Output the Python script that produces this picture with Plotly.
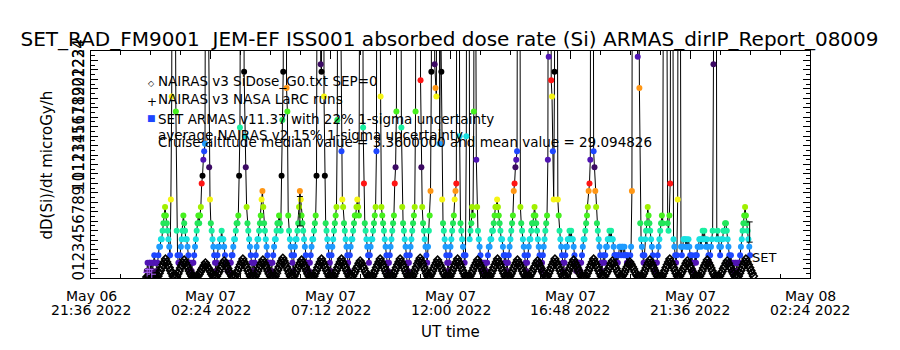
import plotly.graph_objects as go
import pandas as pd

# ---------------- data ----------------
ARMAS_START = "2022-05-06 23:50"
ARMAS_STEP_MIN = 2
ARMAS_DOSE = [
    0.75, 1.6, 0.75, 1.6, 1.6, 0.75, 1.6, 0.75, 1.6, 2.4,
    1.6, 1.6, 0.75, 1.6, 2.4, 3.3, 3.3, 4.1, 4.1, 5.0,
    5.8, 6.6, 7.5, 6.6, 5.8, 5.0, 4.1, 3.3, 2.4, 8.3,
    19.2, 65, 150, 120, 40, 17.6, 5.0, 2.4, 1.6, 1.6,
    2.4, 3.3, 4.1, 5.0, 6.6, 5.8, 5.0, 4.1, 4.1, 3.3,
    2.4, 1.6, 0.75, 1.6, 0.75, 1.6, 1.6, 2.4, 3.3, 4.1,
    5.0, 5.8, 6.6, 5.8, 6.6, 7.5, 10.0, 10.8, 12.5, 13.4,
    14.2, 60, 130, 90, 30, 11.7, 8.3, 5.8, 5.0, 4.1,
    3.3, 2.4, 1.6, 0.75, 1.6, 2.4, 3.3, 3.3, 4.1, 4.1,
    5.0, 4.1, 4.1, 3.3, 2.4, 1.6, 1.6, 0.75, 1.6, 0.75,
    1.6, 1.6, 2.4, 2.4, 3.3, 4.1, 4.1, 5.0, 5.8, 5.8,
    6.6, 10.8, 15.9, 50, 140, 180, 90, 21.8, 15.0, 11.7,
    7.5, 5.8, 5.0, 4.1, 3.3, 2.4, 1.6, 0.75, 1.6, 0.75,
    1.6, 2.4, 3.3, 4.1, 4.1, 5.0, 5.8, 6.6, 8.3, 9.2,
    7.5, 5.8, 5.0, 4.1, 3.3, 2.4, 1.6, 0.75, 1.6, 1.6,
    0.75, 1.6, 2.4, 3.3, 4.1, 4.1, 5.0, 5.8, 5.8, 6.6,
    5.8, 5.0, 10.8, 16.7, 21.8, 70, 160, 80, 20.1, 17.6,
    6.6, 5.0, 4.1, 3.3, 2.4, 1.6, 0.75, 2.4, 3.3, 4.1,
    4.1, 5.0, 5.8, 7.5, 9.2, 8.3, 6.6, 5.8, 5.0, 4.1,
    3.3, 2.4, 1.6, 0.75, 1.6, 0.75, 1.6, 2.4, 3.3, 4.1,
    4.1, 5.0, 5.8, 6.6, 10.8, 45, 120, 150, 70, 22.6,
    21.8, 60, 110, 19.2, 10.8, 5.8, 5.0, 4.1, 3.3, 2.4,
    1.6, 0.75, 2.4, 3.3, 4.1, 5.0, 5.8, 6.6, 7.5, 16.7,
    70, 150, 100, 30, 13.4, 8.3, 7.5, 5.8, 5.0, 4.1,
    3.3, 2.4, 1.6, 0.75, 2.4, 3.3, 4.1, 4.1, 5.0, 5.8,
    6.6, 6.6, 7.5, 8.3, 7.5, 6.6, 40, 130, 160, 90,
    15.9, 10.0, 5.8, 5.0, 4.1, 3.3, 2.4, 1.6, 2.4, 3.3,
    4.1, 4.1, 5.0, 5.8, 6.6, 7.5, 13.4, 60, 140, 100,
    40, 19.2, 7.5, 6.6, 5.8, 5.0, 4.1, 3.3, 2.4, 1.6,
    0.75, 1.6, 2.4, 3.3, 4.1, 5.0, 5.8, 6.6, 10.0, 11.7,
    17.6, 80, 150, 170, 120, 50, 15.9, 7.5, 5.8, 5.0,
    4.1, 3.3, 2.4, 1.6, 0.75, 1.6, 2.4, 3.3, 4.1, 5.0,
    5.8, 6.6, 7.5, 17.6, 70, 160, 190, 130, 60, 20.9,
    11.7, 7.5, 5.8, 5.0, 4.1, 3.3, 2.4, 1.6, 3.3, 5.0,
    6.6, 9.2, 21.8, 80, 170, 130, 22.6, 20.1, 19.2, 60,
    150, 90, 14.2, 30, 21.8, 8.3, 5.8, 5.0, 4.1, 3.3,
    2.4, 1.6, 0.75, 1.6, 2.4, 3.3, 4.1, 5.0, 5.8, 6.6,
    8.3, 9.2, 10.0, 60, 140, 70, 15.0, 5.8, 5.0, 4.1,
    3.3, 2.4, 1.6, 2.4, 15.0, 80, 150, 60, 4.1, 5.0,
    5.8, 7.5, 6.6, 17.6, 90, 40, 12.5, 7.5, 5.0, 4.1,
    3.3, 2.4, 1.6, 0.75, 1.6, 0.75, 1.6, 1.6, 0.75, 1.6,
    2.4, 3.3, 3.3, 4.1, 4.1, 5.0, 5.0, 5.8, 6.6, 7.5,
    7.5, 8.3, 7.5, 6.6, 5.8, 5.0, 4.1, 4.1, 3.3, 2.4,
    1.6, 2.4, 1.6, 0.75, 1.6, 2.4, 3.3, 4.1, 5.0, 5.8,
    6.6, 9.2, 10.0, 11.7, 12.5, 13.4, 70, 150, 60, 7.5,
    5.8, 5.0, 4.1, 3.3, 2.4, 1.6, 0.75, 1.6, 2.4, 3.3,
    4.1, 4.1, 5.0, 5.8, 5.8, 6.6, 7.5, 6.6, 5.8, 5.0,
    4.1, 3.3, 2.4, 1.6, 0.75, 1.6, 2.4, 3.3, 4.1, 5.0,
    5.8, 6.6, 12.5, 23.4, 90, 170, 20.9, 19.2, 13.4, 8.3,
    21.8, 80, 140, 50, 8.3, 6.6, 5.0, 4.1, 3.3, 2.4,
    1.6, 0.75, 1.6, 2.4, 3.3, 3.3, 4.1, 4.1, 5.0, 4.1,
    5.0, 4.1, 4.1, 3.3, 2.4, 1.6, 0.75, 1.6, 0.75, 1.6,
    1.6, 0.75, 1.6, 2.4, 3.3, 4.1, 4.1, 5.0, 5.8, 6.6,
    7.5, 9.2, 10.0, 12.5, 70, 160, 90, 13.4, 11.7, 9.2,
    7.5, 5.8, 5.0, 4.1, 3.3, 2.4, 1.6, 0.75, 1.6, 2.4,
    1.6, 2.4, 3.3, 3.3, 4.1, 4.1, 5.0, 4.1, 5.0, 4.1,
    4.1, 3.3, 2.4, 2.4, 1.6, 2.4, 1.6, 2.4, 3.3, 3.3,
    2.4, 3.3, 3.3, 2.4, 3.3, 2.4, 2.4, 1.6, 2.4, 1.6,
    1.6, 2.4, 3.3, 9.2, 60, 150, 190, 140, 80, 30,
    23.4, 50, 20.1, 5.8, 4.1, 3.3, 2.4, 1.6, 2.4, 4.1,
    5.0, 5.8, 7.5, 6.6, 5.8, 5.0, 4.1, 3.3, 2.4, 1.6,
    0.75, 1.6, 0.75, 1.6, 2.4, 3.3, 4.1, 5.0, 5.8, 6.6,
    5.8, 40, 120, 150, 80, 30, 5.8, 5.0, 6.6, 10.0,
    50, 110, 40, 4.1, 3.3, 2.4, 1.6, 2.4, 8.3, 80,
    120, 40, 3.3, 2.4, 3.3, 4.1, 4.1, 4.1, 3.3, 4.1,
    3.3, 4.1, 3.3, 2.4, 1.6, 2.4, 1.6, 0.75, 1.6, 2.4,
    1.6, 2.4, 3.3, 3.3, 4.1, 4.1, 3.3, 4.1, 5.0, 4.1,
    5.0, 4.1, 3.3, 4.1, 3.3, 2.4, 1.6, 2.4, 3.3, 4.1,
    5.0, 22.6, 70, 150, 60, 4.1, 5.0, 4.1, 3.3, 2.4,
    3.3, 4.1, 4.1, 5.0, 5.0, 5.8, 5.8, 5.0, 4.1, 3.3,
    2.4, 1.6, 2.4, 1.6, 0.75, 1.6, 0.75, 1.6, 1.6, 0.75,
    1.6, 1.6, 1.6, 2.4, 3.3, 4.1, 5.0, 5.8, 6.6, 7.5,
    6.6, 5.8, 5.0, 4.1, 3.3, 2.4,
]

NAIRAS_START = "2022-05-06 23:50"
NAIRAS_STEP_MIN = 3
NAIRAS_DOSE = [
    0.1, 0.15, 0.1, 0.1, 0.15, 0.1, 0.1, 0.15, 0.1,
    0.2, 0.5, 0.8, 1.1, 1.4, 1.7, 2.0, 1.7, 1.4, 1.1, 0.8, 0.5, 0.2,
    0.1, 0.1,
    0.2, 0.45, 0.75, 1.05, 1.35, 1.6, 1.9, 1.6, 1.35, 1.05, 0.75, 0.45, 0.2,
    0.1, 0.15, 0.1, 0.1,
    0.2, 0.4, 0.65, 0.9, 1.1, 1.35, 1.6, 1.35, 1.1, 0.9, 0.65, 0.4, 0.2,
    0.1, 0.1,
    0.2, 0.45, 0.7, 1.0, 1.25, 1.55, 1.8, 1.55, 1.25, 1.0, 0.7, 0.45, 0.2,
    0.1, 0.1,
    0.2, 0.5, 0.8, 1.1, 1.4, 1.7, 2.0, 1.7, 1.4, 1.1, 0.8, 0.5, 0.2,
    0.1, 0.15, 0.1,
    0.2, 0.45, 0.75, 1.05, 1.35, 1.6, 1.9, 1.6, 1.35, 1.05, 0.75, 0.45, 0.2,
    0.1, 0.15, 0.1,
    0.2, 0.5, 0.85, 1.15, 1.5, 1.8, 2.1, 1.8, 1.5, 1.15, 0.85, 0.5, 0.2,
    0.1, 0.1,
    0.2, 0.45, 0.75, 1.05, 1.35, 1.6, 1.9, 1.6, 1.35, 1.05, 0.75, 0.45, 0.2,
    0.1, 0.15, 0.1,
    0.2, 0.5, 0.8, 1.1, 1.4, 1.7, 2.0, 1.7, 1.4, 1.1, 0.8, 0.5, 0.2,
    0.1, 0.15, 0.1,
    0.2, 0.5, 0.8, 1.1, 1.4, 1.7, 2.0, 1.7, 1.4, 1.1, 0.8, 0.5, 0.2,
    0.1, 0.1,
    0.2, 0.45, 0.7, 1.0, 1.25, 1.55, 1.8, 1.55, 1.25, 1.0, 0.7, 0.45, 0.2,
    0.1, 0.15, 0.1,
    0.2, 0.5, 0.8, 1.1, 1.4, 1.7, 2.0, 1.7, 1.4, 1.1, 0.8, 0.5, 0.2,
    0.1, 0.15, 0.1,
    0.2, 0.5, 0.8, 1.1, 1.4, 1.7, 2.0, 1.7, 1.4, 1.1, 0.8, 0.5, 0.2,
    0.1, 0.15, 0.1,
    0.2, 0.5, 0.85, 1.15, 1.5, 1.8, 2.1, 1.8, 1.5, 1.15, 0.85, 0.5, 0.2,
    0.1,
    0.2, 0.45, 0.75, 1.05, 1.35, 1.6, 1.9, 1.6, 1.35, 1.05, 0.75, 0.45, 0.2,
    0.1, 0.15, 0.1,
    0.2, 0.5, 0.8, 1.1, 1.4, 1.7, 2.0, 1.7, 1.4, 1.1, 0.8, 0.5, 0.2,
    0.1, 0.15, 0.1,
    0.2, 0.45, 0.75, 1.05, 1.35, 1.6, 1.9, 1.6, 1.35, 1.05, 0.75, 0.45, 0.2,
    0.1, 0.15, 0.1,
    0.2, 0.5, 0.8, 1.1, 1.4, 1.7, 2.0, 1.7, 1.4, 1.1, 0.8, 0.5, 0.2,
    0.1, 0.15, 0.1,
    0.2, 0.45, 0.75, 1.05, 1.35, 1.6, 1.9, 1.6, 1.35, 1.05, 0.75, 0.45, 0.2,
    0.1, 0.15, 0.1,
    0.2, 0.45, 0.7, 1.0, 1.25, 1.55, 1.8, 1.55, 1.25, 1.0, 0.7, 0.45, 0.2,
    0.1,
    0.2, 0.5, 0.8, 1.1, 1.4, 1.7, 2.0, 1.7, 1.4, 1.1, 0.8, 0.5, 0.2,
    0.1, 0.1,
    0.2, 0.45, 0.75, 1.05, 1.35, 1.6, 1.9, 1.6, 1.35, 1.05, 0.75, 0.45, 0.2,
    0.1, 0.15, 0.1,
    0.2, 0.5, 0.8, 1.1, 1.4, 1.7, 2.0, 1.7, 1.4, 1.1, 0.8, 0.5, 0.2,
    0.1, 0.1,
    0.2, 0.45, 0.7, 1.0, 1.25, 1.55, 1.8, 1.55, 1.25, 1.0, 0.7, 0.45, 0.2,
    0.1,
    0.2, 0.4, 0.65, 0.95, 1.2, 1.45, 1.7, 1.45, 1.2, 0.95, 0.65, 0.4, 0.2,
    0.1, 0.15, 0.1,
    0.2, 0.45, 0.75, 1.05, 1.35, 1.6, 1.9, 1.6, 1.35, 1.05, 0.75, 0.45, 0.2,
    0.1, 0.15, 0.1,
    0.2, 0.5, 0.8, 1.1, 1.4, 1.7, 2.0, 1.7, 1.4, 1.1, 0.8, 0.5, 0.2,
    0.1,
    0.2, 0.45, 0.7, 1.0, 1.25, 1.55, 1.8, 1.55, 1.25, 1.0, 0.7, 0.45, 0.2,
    0.1, 0.15, 0.1,
    0.2, 0.45, 0.75, 1.05, 1.35, 1.6, 1.9, 1.6, 1.35, 1.05, 0.75, 0.45, 0.2,
    0.1, 0.15, 0.1,
    0.2, 0.45, 0.7, 1.0, 1.25, 1.55, 1.8, 1.55, 1.25, 1.0, 0.7, 0.45, 0.2,
    0.1, 0.1,
    0.2, 0.5, 0.8, 1.1, 1.4, 1.7, 2.0, 1.7, 1.4, 1.1, 0.8, 0.5, 0.2,
]

LARC_TIMES = ["2022-05-06 23:51", "2022-05-06 23:56", "2022-05-07 00:02"]
LARC_DOSE = [0.6, 0.9, 0.4]

ERR_TIMES = ["2022-05-07 05:58", "2022-05-07 23:59"]
ERR_DOSE = [7.06, 4.86]
SET_UNCERT = 0.22

X_RANGE = ["2022-05-06 21:36", "2022-05-08 02:24"]
XTICK_VALS = ["2022-05-06 21:36", "2022-05-07 02:24", "2022-05-07 07:12",
              "2022-05-07 12:00", "2022-05-07 16:48", "2022-05-07 21:36",
              "2022-05-08 02:24"]
XTICK_LINE1 = ["May 06", "May 07", "May 07", "May 07", "May 07", "May 07", "May 08"]
XTICK_LINE2 = ["21:36 2022", "02:24 2022", "07:12 2022", "12:00 2022",
               "16:48 2022", "21:36 2022", "02:24 2022"]
YTICK_VALS = list(range(0, 25))

TITLE = "SET_RAD_FM9001\u00a0\u00a0JEM-EF ISS001 absorbed dose rate (Si) ARMAS_dirIP_Report_08009"
LEGEND_LINES = [
    "NAIRAS v3 SiDose_G0.txt SEP=0",
    "NAIRAS v3 NASA LaRC runs",
    "SET ARMAS v11.37 with 22% 1-sigma uncertainty",
    "average NAIRAS v2 15% 1-sigma uncertainty",
    "Cruise altitude median value = 3.3600000 and mean value = 29.094826",
]

# ---------------- styling ----------------
FONT = "DejaVu Sans"
PALETTE = ["#3c0a64", "#5014b4", "#1e46ff", "#1e9bff", "#19e1e1", "#19f0a0",
           "#23e65a", "#46f01e", "#a0f000", "#f5f514", "#ff9614", "#ff1414",
           "#000000"]
LEVEL0, LEVEL_STEP = 0.75, 0.84


def level_color(v):
    k = int(round((v - LEVEL0) / LEVEL_STEP))
    return PALETTE[k % len(PALETTE)]


armas_t = pd.date_range(ARMAS_START, periods=len(ARMAS_DOSE), freq=f"{ARMAS_STEP_MIN}min")
nairas_t = pd.date_range(NAIRAS_START, periods=len(NAIRAS_DOSE), freq=f"{NAIRAS_STEP_MIN}min")
armas_colors = [level_color(v) for v in ARMAS_DOSE]

L, R, T, B = 91, 90, 51, 72
W, H = 900, 350
PW, PH = W - L - R, H - T - B


def px(x):
    return (x - L) / PW


def py(y):
    return (H - B - y) / PH


fig = go.Figure()
fig.add_trace(go.Scatter(x=armas_t, y=ARMAS_DOSE, mode="lines",
                         line=dict(color="black", width=1), hoverinfo="skip"))
fig.add_trace(go.Scatter(x=armas_t, y=ARMAS_DOSE, mode="markers",
                         marker=dict(color=armas_colors, size=6, line=dict(width=0))))
fig.add_trace(go.Scatter(x=nairas_t, y=NAIRAS_DOSE, mode="lines+markers",
                         line=dict(color="black", width=1.2),
                         marker=dict(symbol="diamond-open", size=6, color="black",
                                     line=dict(width=1.5, color="black"))))
fig.add_trace(go.Scatter(x=LARC_TIMES, y=LARC_DOSE, mode="markers",
                         marker=dict(symbol="cross-thin-open", size=6,
                                     line=dict(width=1, color="black"))))
fig.add_trace(go.Scatter(x=ERR_TIMES, y=ERR_DOSE, mode="markers",
                         marker=dict(size=1, color="rgba(0,0,0,0)"),
                         error_y=dict(type="data", array=[v * SET_UNCERT for v in ERR_DOSE],
                                      color="black", thickness=1, width=3)))

fig.update_layout(
    width=W, height=H, margin=dict(l=L, r=R, t=T, b=B, pad=0),
    paper_bgcolor="white", plot_bgcolor="white", showlegend=False,
    font=dict(family=FONT, color="black", size=13),
    title=dict(text=TITLE, x=449.5 / W, y=1 - 38.5 / H, xanchor="center",
               yanchor="middle", font=dict(size=20, family=FONT, color="black")),
)
fig.update_xaxes(
    type="date", range=X_RANGE, showgrid=False, zeroline=False,
    showline=True, linecolor="black", linewidth=1, mirror="ticks",
    ticks="inside", ticklen=8, tickcolor="black", tickwidth=1,
    tickmode="array", tickvals=XTICK_VALS, showticklabels=False,
    minor=dict(dtick=72 * 60 * 1000, tick0=XTICK_VALS[0], ticks="inside",
               ticklen=4, tickcolor="black", showgrid=False),
)
fig.update_yaxes(
    range=[0, 24], showgrid=False, zeroline=False,
    showline=True, linecolor="black", linewidth=1, mirror="ticks",
    ticks="inside", ticklen=7, tickcolor="black", tickwidth=1,
    tickmode="array", tickvals=YTICK_VALS, ticktext=[str(v) for v in YTICK_VALS],
    tickangle=-90, tickfont=dict(size=15, family=FONT),
    minor=dict(dtick=0.5, ticks="inside", ticklen=4, tickcolor="black", showgrid=False),
)

ann = []
for tv, l1, l2 in zip(XTICK_VALS, XTICK_LINE1, XTICK_LINE2):
    ann.append(dict(x=tv, xref="x", y=py(296), yref="paper", text=l1, showarrow=False,
                    xanchor="center", yanchor="middle", font=dict(size=14)))
    ann.append(dict(x=tv, xref="x", y=py(310), yref="paper", text=l2, showarrow=False,
                    xanchor="center", yanchor="middle", font=dict(size=14)))
ann.append(dict(x=px(450), y=py(332), xref="paper", yref="paper", text="UT time",
                showarrow=False, xanchor="center", yanchor="middle", font=dict(size=15)))
ann.append(dict(x=px(46), y=py(165.5), xref="paper", yref="paper",
                text="dD(Si)/dt microGy/h", textangle=-90, showarrow=False,
                xanchor="center", yanchor="middle", font=dict(size=15)))
# legend
leg_y = [81, 99, 119, 134.5, 142]
for txt, yy in zip(LEGEND_LINES, leg_y):
    ann.append(dict(x=px(156), y=py(yy), xref="paper", yref="paper", text=txt,
                    showarrow=False, xanchor="left", yanchor="middle", font=dict(size=13.5)))
ann.append(dict(x=px(151), y=py(83), xref="paper", yref="paper", text="\u25c7",
                showarrow=False, xanchor="center", yanchor="middle", font=dict(size=8)))
ann.append(dict(x=px(151.5), y=py(102), xref="paper", yref="paper", text="+",
                showarrow=False, xanchor="center", yanchor="middle", font=dict(size=12)))
ann.append(dict(x=px(151), y=py(118), xref="paper", yref="paper", text="\u25a0",
                showarrow=False, xanchor="center", yanchor="middle",
                font=dict(size=9, color="#1e46ff")))
ann.append(dict(x=px(750), y=py(257), xref="paper", yref="paper", text="SET",
                showarrow=False, xanchor="left", yanchor="middle", font=dict(size=13)))
fig.update_layout(annotations=ann)

fig.write_html("out.html")
